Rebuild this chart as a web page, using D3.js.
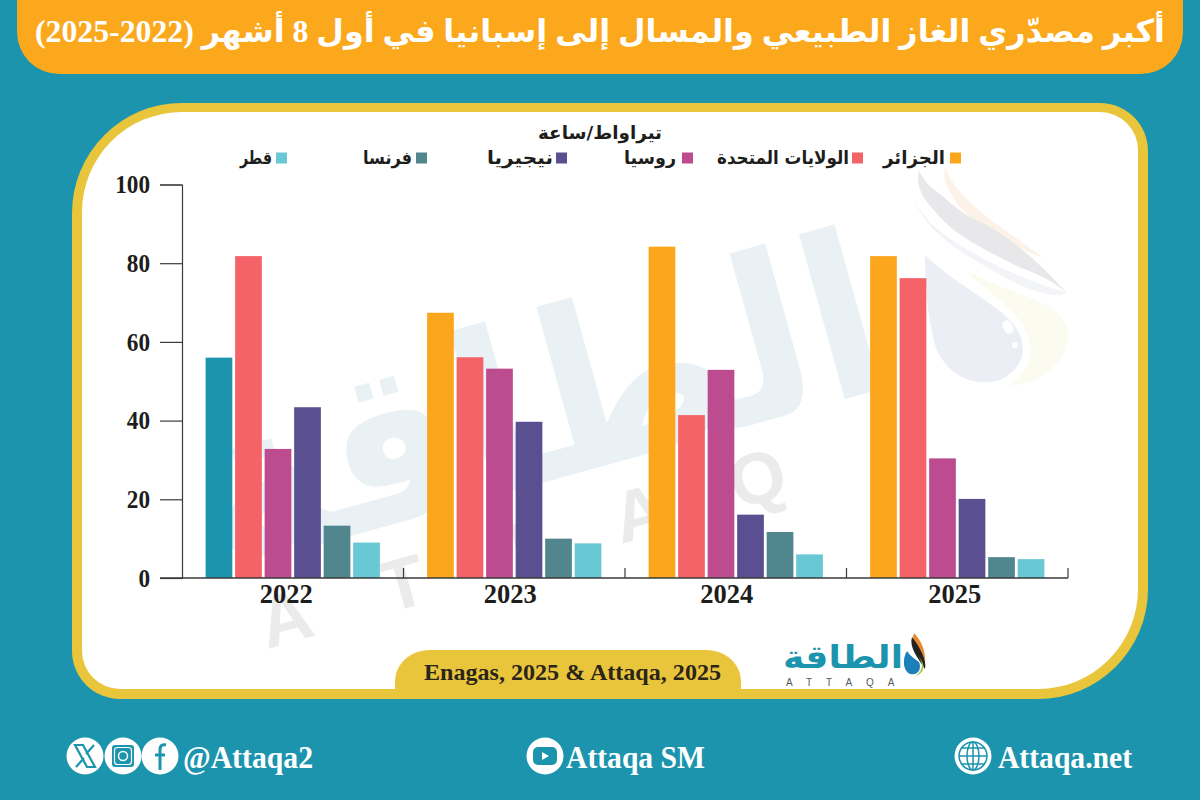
<!DOCTYPE html>
<html lang="ar"><head><meta charset="utf-8">
<script src="https://cdn.jsdelivr.net/npm/d3@7/dist/d3.min.js"></script>
<style>html,body{margin:0;padding:0;background:#1c94ad}svg{display:block}</style>
</head><body>
<svg id="c" width="1200" height="800" viewBox="0 0 1200 800"></svg>
<script>
// ---- data ----
const years = ["2022","2023","2024","2025"];
const seriesNames = ["الجزائر","الولايات المتحدة","روسيا","نيجيريا","فرنسا","قطر"];
const seriesColors = ["#fba61d","#f36368","#bc4b90","#5a4f90","#52868f","#68c9d4"];
const values2022 = [56, 81.8, 32.8, 43.4, 13.3, 9];
const values2023 = [67.4, 56.1, 53.2, 39.7, 10, 8.8];
const values2024 = [84.2, 41.4, 52.9, 16.1, 11.7, 6];
const values2025 = [81.8, 76.2, 30.4, 20.1, 5.3, 4.8];
const yTicks = [0,20,40,60,80,100];
const titleText = "أكبر مصدّري الغاز الطبيعي والمسال إلى إسبانيا في أول 8 أشهر (2022-2025)";
const unitText = "تيراواط/ساعة";
const sourceText = "Enagas, 2025 & Attaqa, 2025";

const allValues = [values2022, values2023, values2024, values2025];
const TEAL="#1c94ad", YEL="#e8c53b", INK="#1d1d1b";
const AR="'Liberation Serif','DejaVu Sans',sans-serif";
const SERIF="'Liberation Serif',serif";
const svg=d3.select("#c");

function panel(l,t,r,b,rBig,rSmall){
  return `M${l+rBig} ${t}H${r-rSmall}A${rSmall} ${rSmall} 0 0 1 ${r} ${t+rSmall}V${b-rBig}A${rBig} ${rBig} 0 0 1 ${r-rBig} ${b}H${l+rSmall}A${rSmall} ${rSmall} 0 0 1 ${l} ${b-rSmall}V${t+rBig}A${rBig} ${rBig} 0 0 1 ${l+rBig} ${t}Z`;
}

// ---- frame ----
svg.append("rect").attr("width",1200).attr("height",800).attr("fill",TEAL);
svg.append("rect").attr("x",17).attr("y",-70).attr("width",1166).attr("height",144).attr("rx",42).attr("fill","#fca81c");
svg.append("path").attr("d",panel(72,103,1148,699,110,48)).attr("fill",YEL);
svg.append("path").attr("d",panel(82,112,1138,689,100,38)).attr("fill","#fff");

// ---- watermark ----
const wm=svg.append("g");
wm.append("text").attr("transform","translate(560,478) rotate(-15.5)")
  .attr("text-anchor","middle").attr("direction","rtl")
  .attr("font-family","'DejaVu Sans'").attr("font-weight",700).attr("font-size",225)
  .attr("textLength",700).attr("lengthAdjust","spacingAndGlyphs")
  .attr("fill","#e9f1f5").text("الطاقة");
wm.selectAll("text.l").data(["A","T","T","A","Q"]).join("text").attr("class","l")
  .attr("transform",(d,i)=>`translate(${292+i*118},${642-i*35}) rotate(-15.5)`)
  .attr("text-anchor","middle").attr("font-family","'Liberation Sans'").attr("font-weight",700).attr("font-size",72)
  .attr("fill","#ebebeb").text(d=>d);

const dropParts=[
  ["M965 270C1020 300 1070 300 1068 340C1065 365 1035 385 1010 386C1040 360 1035 335 1010 310C995 295 980 285 965 270Z","#fbfbef"],
  ["M945 166C955 200 1000 225 1043 258C1010 245 975 225 958 205C948 190 942 180 945 166Z","#fdf2e8"],
  ["M913 195C925 235 965 255 1010 280C1035 293 1055 298 1067 293C1040 285 1000 270 960 245C935 230 920 215 913 195Z","#f3f4f8"],
  ["M919 170C925 185 935 190 945 198C960 213 975 220 985 224C1010 238 1035 258 1067 293C1045 275 1030 272 1015 265C985 250 955 235 940 217C925 200 915 190 919 170Z","#e8e8ea"],
  ["M925 255C950 280 990 300 1012 322C1030 345 1025 368 1000 380C975 388 945 375 935 345C928 320 925 285 925 255Z","#eceef6"]
];
const dw=svg.append("g");
dw.selectAll("path").data(dropParts).join("path").attr("d",d=>d[0]).attr("fill",d=>d[1]);
dw.append("ellipse").attr("cx",1008).attr("cy",327).attr("rx",5).attr("ry",7).attr("transform","rotate(-25 1008 327)").attr("fill","#fff");
dw.append("circle").attr("cx",1015).attr("cy",345).attr("r",3).attr("fill","#fff");

// ---- chart scales ----
const x0=d3.scaleBand().domain(years).range([182,1068]);
const x1=d3.scaleBand().domain(seriesNames).range([0,x0.bandwidth()]).paddingInner(0.095).paddingOuter(0.8);
const y=d3.scaleLinear().domain([0,100]).range([578,184.5]);

const chart=svg.append("g");
// y axis
const ya=chart.append("g").attr("transform","translate(182,0)")
  .call(d3.axisLeft(y).tickValues(yTicks).tickSize(22).tickPadding(10));
ya.selectAll("path,line").attr("stroke","#3a3a3a").attr("stroke-width",1.2);
ya.selectAll("text").attr("font-family",SERIF).attr("font-weight",700).attr("font-size",26).attr("fill",INK)
  .attr("textLength",d=>String(d).length*11.6).attr("lengthAdjust","spacingAndGlyphs");

// bars
years.forEach((yr,yi)=>{
  const g=chart.append("g").attr("transform",`translate(${x0(yr)},0)`);
  g.selectAll("rect").data(allValues[yi]).join("rect")
    .attr("x",(d,i)=>x1(seriesNames[i])).attr("width",x1.bandwidth())
    .attr("y",d=>y(d)).attr("height",d=>y(0)-y(d))
    .attr("fill",(d,i)=>(yi===0&&i===0)?TEAL:seriesColors[i]);
});

// x axis
chart.append("line").attr("x1",160).attr("x2",1068).attr("y1",578).attr("y2",578).attr("stroke","#3a3a3a").attr("stroke-width",1.4);
chart.selectAll("line.sep").data(years.slice(1).concat("end")).join("line").attr("class","sep")
  .attr("x1",d=>d==="end"?x0.range()[1]:x0(d)).attr("x2",d=>d==="end"?x0.range()[1]:x0(d))
  .attr("y1",568).attr("y2",578).attr("stroke","#3a3a3a").attr("stroke-width",1.2);
const xa=chart.append("g").attr("transform","translate(0,578)").call(d3.axisBottom(x0).tickSize(0).tickPadding(5));
xa.select("path").remove();
const yearNudge=[-6.5,-4,-9,-2.5];
xa.selectAll("text").attr("dx",(d,i)=>yearNudge[i]).attr("font-family",SERIF).attr("font-weight",700).attr("font-size",28).attr("fill",INK)
  .attr("textLength",53).attr("lengthAdjust","spacingAndGlyphs");

// legend
const legendRight=[961,863,693,567,427,287];
const legendTextRight=[945,849,676,553,412,272];
const legendWidth=[62,132,52,66,49,32];
const leg=svg.append("g").selectAll("g").data(seriesNames).join("g");
leg.append("rect").attr("x",(d,i)=>legendRight[i]-11).attr("y",152.5).attr("width",11).attr("height",11).attr("fill",(d,i)=>seriesColors[i]);
leg.append("text").attr("x",(d,i)=>legendTextRight[i]-legendWidth[i]/2).attr("y",164).attr("direction","rtl").attr("text-anchor","middle")
  .attr("font-family","'DejaVu Sans'").attr("font-weight",700).attr("font-size",18).attr("fill",INK)
  .attr("textLength",(d,i)=>legendWidth[i]).attr("lengthAdjust","spacingAndGlyphs").text(d=>d);
svg.append("text").attr("x",600).attr("y",139).attr("text-anchor","middle").attr("direction","rtl")
  .attr("font-family","'DejaVu Sans'").attr("font-weight",700).attr("font-size",18).attr("fill",INK)
  .attr("textLength",124).attr("lengthAdjust","spacingAndGlyphs").text(unitText);

// title
svg.append("text").attr("x",600).attr("y",42).attr("text-anchor","middle").attr("direction","rtl")
  .attr("font-family",AR).attr("font-weight",700).attr("font-size",31.5)
  .attr("textLength",1130).attr("lengthAdjust","spacingAndGlyphs").attr("fill","#fff").text(titleText);

// source tab
svg.append("path").attr("d","M395 690V682C395 664 410 650 430 650H706C726 650 741 664 741 682V690Z").attr("fill",YEL);
svg.append("text").attr("x",572.5).attr("y",680).attr("text-anchor","middle").attr("font-family",SERIF).attr("font-weight",700).attr("font-size",24).attr("fill","#2b2419")
  .attr("textLength",297).attr("lengthAdjust","spacingAndGlyphs").text(sourceText);

// logo
svg.append("text").attr("x",843).attr("y",668).attr("text-anchor","middle").attr("direction","rtl")
  .attr("font-family","'DejaVu Sans'").attr("font-weight",700).attr("font-size",32)
  .attr("textLength",120).attr("lengthAdjust","spacingAndGlyphs").attr("fill",TEAL).text("الطاقة");
svg.append("text").attr("x",786).attr("y",686).attr("font-family","'Liberation Sans'").attr("font-size",10).attr("letter-spacing",14).attr("fill","#55595c").text("ATTAQA");
const lg=svg.append("g").attr("transform","translate(904,633)");
lg.append("path").attr("d","M10 0C6 10 14 20 21 30C22 20 18 8 10 0Z").attr("fill","#e88a2a");
lg.append("path").attr("d","M8 4C5 14 13 24 21 36C23 28 16 14 8 4Z").attr("fill","#222");
lg.append("path").attr("d","M3 18C-2 26 -1 38 6 41C14 43 18 36 15 29C11 26 6 23 3 18Z").attr("fill","#1b7fb8");
lg.append("path").attr("d","M12 21C20 28 20 38 11 43C20 41 24 32 12 21Z").attr("fill","#a8c94a");

// footer text
const foot=[["@Attaqa2",183,130],["Attaqa SM",566,139],["Attaqa.net",998,134]];
svg.selectAll("text.f").data(foot).join("text").attr("class","f").attr("x",d=>d[1]).attr("y",768)
  .attr("font-family",SERIF).attr("font-weight",700).attr("font-size",31).attr("fill","#fff")
  .attr("textLength",d=>d[2]).attr("lengthAdjust","spacingAndGlyphs").text(d=>d[0]);

// footer icons
const ic=svg.append("g");
[[85,756],[123,756],[160,756],[545,756],[973,756]].forEach(c=>ic.append("circle").attr("cx",c[0]).attr("cy",c[1]).attr("r",18.5).attr("fill","#fff"));
// X
ic.append("path").attr("d","M75 745H83L95 767H87ZM94 745L86 754M84 758L76 767").attr("fill","none").attr("stroke",TEAL).attr("stroke-width",2.2);
// instagram
ic.append("rect").attr("x",112).attr("y",745).attr("width",22).attr("height",22).attr("rx",3).attr("fill",TEAL);
ic.append("rect").attr("x",114.5).attr("y",747.5).attr("width",17).attr("height",17).attr("rx",3).attr("fill","none").attr("stroke","#fff").attr("stroke-width",1.2);
ic.append("circle").attr("cx",123).attr("cy",756).attr("r",4.5).attr("fill","none").attr("stroke","#fff").attr("stroke-width",1.5);
// facebook
ic.append("path").attr("d","M160 770V750C160 745 163 744 166 745M155 755H165").attr("fill","none").attr("stroke",TEAL).attr("stroke-width",3);
// youtube
ic.append("rect").attr("x",533).attr("y",747).attr("width",24).attr("height",18).attr("rx",5).attr("fill",TEAL);
ic.append("path").attr("d","M542 752L549 756L542 760Z").attr("fill","#fff");
// globe
const gl=ic.append("g").attr("fill","none").attr("stroke",TEAL).attr("stroke-width",1.5);
gl.append("circle").attr("cx",973).attr("cy",756).attr("r",14);
gl.append("ellipse").attr("cx",973).attr("cy",756).attr("rx",6).attr("ry",14);
gl.append("path").attr("d","M959 756H987M961 748H985M961 764H985M973 742V770");
</script>
</body></html>
